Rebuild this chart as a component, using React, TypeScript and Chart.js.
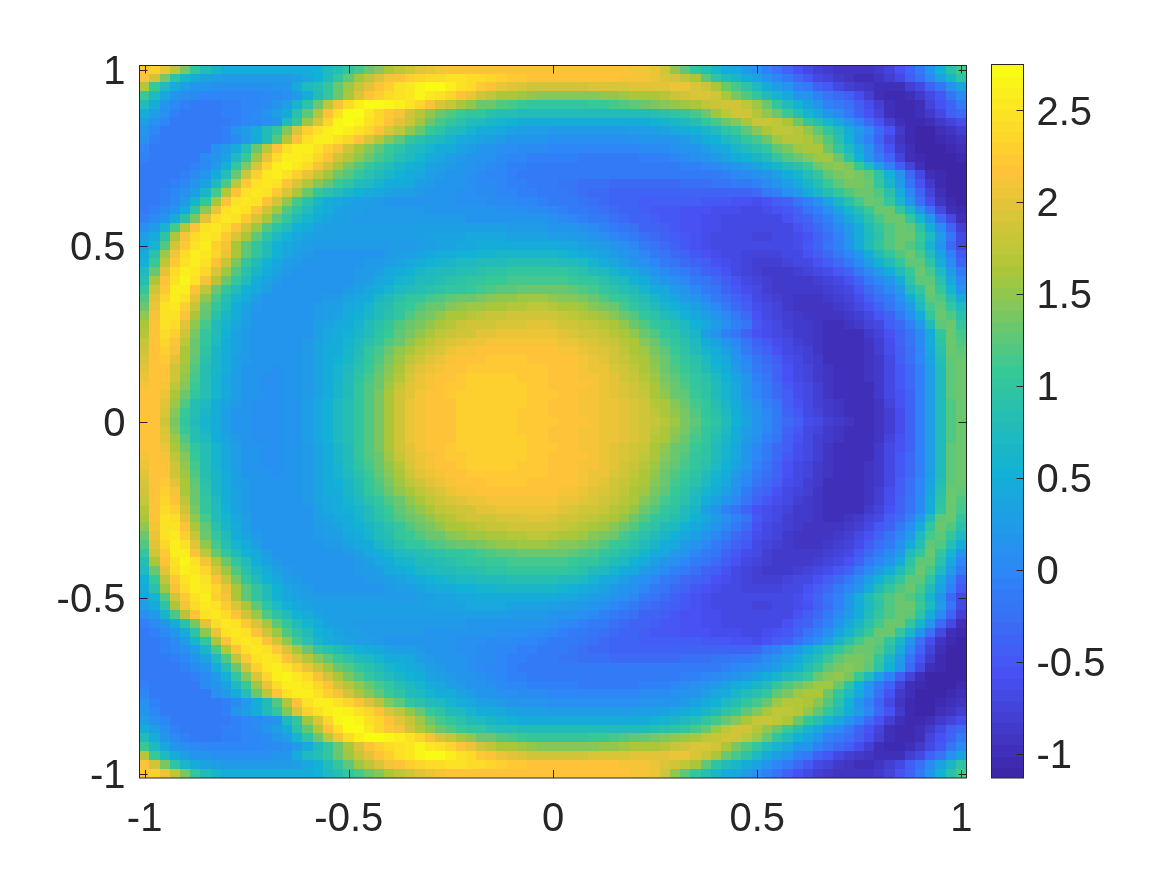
import React, { useEffect, useRef } from "react";
import { Chart, registerables } from "chart.js";

Chart.register(...registerables);

// Field values. Rows run from y = 1 down to y = 0; the lower half mirrors them.
const upperRows: number[][] = [
[2.15,2.3,2.05,1.75,1.4, 1.0,.75,.6,.5,.45, .45,.45,.45,.45,.45, .45,.5,.55,.7,.85, 1.0,1.15,1.3,1.45,1.6, 1.75,1.9,2.0,2.05,2.1, 2.15,2.2,2.2,2.2,2.2, 2.2,2.2,2.2,2.2,2.2, 2.2,2.2,2.2,2.2,2.2, 2.15,2.15,2.15,2.1,2.1, 2.05,1.85,1.5,1.25,1.05, .85,.65,.5,.4,.25, .1,-.05,-.2,-.35,-.55, -.7,-.8,-.85,-.9,-.9, -.9,-.9,-.85,-.75,-.55, -.35,-.1,.2,.55,.9, 1.15],
[2.15,1.85,1.4,.95,.65, .45,.35,.3,.25,.25, .25,.25,.25,.25,.25, .3,.4,.55,.8,1.0, 1.25,1.55,1.75,1.95,2.1, 2.2,2.3,2.38,2.4,2.42, 2.45,2.45,2.42,2.4,2.35, 2.3,2.25,2.25,2.2,2.2, 2.2,2.18,2.15,2.15,2.15, 2.15,2.15,2.1,2.1,2.1, 2.05,1.95,1.85,1.75,1.6, 1.25,.95,.8,.65,.5, .35,.15,0,-.15,-.3, -.5,-.65,-.75,-.85,-.9, -.95,-.95,-.9,-.8,-.65, -.45,-.25,.05,.35,.65, .95],
[1.7,1.1,.7,.5,.3, .2,.15,.1,.1,.1, .1,.1,.1,.15,.2, .45,.7,.85,1.05,1.3, 1.55,1.8,2.0,2.2,2.3, 2.45,2.55,2.65,2.7,2.7, 2.6,2.5,2.4,2.25,2.15, 2.05,2.0,1.95,1.9,1.9, 1.9,1.9,1.9,1.9,1.92, 1.95,1.95,1.95,1.98,2.0, 2.0,2.02,2.05,2.05,1.95, 1.8,1.6,1.35,1.15,.95, .7,.5,.3,.15,-.05, -.15,-.35,-.5,-.7,-.8, -.85,-.9,-.95,-1.0,-.95, -.8,-.65,-.4,-.2,.1, .35],
[1.1,.7,.4,.2,.1, .05,0,0,0,0, 0,0,.05,.05,.1, .25,.5,.8,1.05,1.35, 1.65,1.95,2.15,2.3,2.4, 2.5,2.55,2.65,2.55,2.45, 2.35,2.2,2.05,1.85,1.75, 1.65,1.6,1.55,1.5,1.45, 1.45,1.45,1.45,1.45,1.45, 1.5,1.5,1.55,1.6,1.65, 1.65,1.7,1.8,1.85,1.95, 1.95,1.85,1.65,1.4,1.2, 1.0,.8,.6,.4,.2, .15,-.05,-.2,-.3,-.45, -.6,-.8,-.95,-1.05,-1.05, -1.0,-.85,-.65,-.5,-.2, .05],
[.75,.45,.2,.05,-.05, -.1,-.1,-.1,-.05,-.05, 0,0,.05,.15,.3, .6,.95,1.35,1.75,2.1, 2.4,2.6,2.7,2.7,2.65, 2.6,2.5,2.35,2.1,1.95, 1.8,1.65,1.5,1.35,1.3, 1.2,1.15,1.1,1.05,1.05, 1.05,1.05,1.05,1.05,1.1, 1.1,1.15,1.2,1.25,1.3, 1.4,1.45,1.5,1.55,1.65, 1.75,1.8,1.85,1.85,1.75, 1.55,1.3,1.05,.8,.55, .35,.15,-.05,-.15,-.25, -.45,-.6,-.8,-.95,-1.05, -1.05,-.95,-.75,-.55,-.35, -.1],
[.5,.3,.1,-.05,-.1, -.1,-.1,-.1,-.05,-.05, 0,.05,.2,.3,.5, .9,1.25,1.7,2.15,2.5, 2.7,2.72,2.55,2.35,2.25, 2.1,1.9,1.7,1.5,1.35, 1.2,1.1,1.05,1.0,.9, .85,.82,.8,.78,.76, .75,.75,.75,.75,.75, .75,.75,.76,.78,.8, .85,.9,.95,1.0,1.15, 1.35,1.55,1.75,1.85,1.85, 1.7,1.5,1.3,1.1,.85, .6,.4,.2,.05,-.1, -.35,-.55,-.75,-.95,-1.05, -1.05,-.95,-.85,-.65,-.45, -.3],
[.3,.1,0,-.1,-.1, -.1,-.1,-.1,-.1,-.05, 0,.05,.1,.2,.7, 1.05,1.55,1.95,2.35,2.65, 2.7,2.65,2.5,2.35,2.2, 2.0,1.8,1.55,1.35,1.15, 1.0,.9,.8,.7,.65, .6,.55,.5,.5,.5, .45,.45,.45,.45,.45, .45,.45,.5,.5,.5, .55,.6,.65,.7,.85, 1.0,1.15,1.3,1.45,1.65, 1.8,1.8,1.75,1.6,1.35, 1.05,.85,.6,.4,.2, -.05,-.3,-.55,-.8,-1.0, -1.05,-1.05,-1.0,-.85,-.75, -.6],
[.2,0,-.1,-.1,-.1, -.1,-.1,-.1,-.05,.15, .3,.5,.75,1.05,1.45, 1.95,2.3,2.5,2.62,2.65, 2.6,2.5,2.35,2.15,1.95, 1.75,1.5,1.3,1.1,.95, .8,.7,.6,.5,.45, .4,.35,.3,.3,.3, .25,.25,.25,.25,.25, .25,.25,.25,.3,.3, .3,.35,.4,.45,.55, .65,.8,.95,1.1,1.25, 1.45,1.65,1.75,1.75,1.7, 1.5,1.25,1.0,.75,.5, .25,0,-.3,-.55,-.85, -1.05,-1.1,-1.1,-1.0,-.9, -.8],
[.1,-.05,-.1,-.15,-.15, -.15,-.15,-.1,-.05,.05, .25,.45,.75,1.2,1.7, 2.2,2.5,2.62,2.6,2.5, 2.35,2.15,1.95,1.7,1.45, 1.25,1.05,.9,.8,.7, .6,.5,.4,.35,.3, .25,.2,.15,.15,.15, .1,.1,.1,.1,.1, .1,.1,.1,.1,.15, .15,.2,.2,.25,.35, .45,.55,.7,.85,1.0, 1.15,1.35,1.55,1.7,1.7, 1.65,1.45,1.2,.9,.55, .2,-.05,-.35,-.65,-.9, -1.05,-1.1,-1.1,-1.05,-.95, -.9],
[0,-.1,-.15,-.15,-.15, -.15,-.1,.1,.25,.5, .85,1.3,1.75,2.2,2.45, 2.6,2.62,2.5,2.3,2.1, 1.85,1.65,1.45,1.25,1.1, .95,.8,.7,.6,.5, .45,.35,.3,.2,.15, .1,.1,.05,.05,.05, 0,0,0,0,0, 0,0,0,0,.05, .05,.05,.1,.15,.2, .3,.4,.5,.65,.75, .9,1.05,1.25,1.4,1.55, 1.6,1.6,1.35,1.0,.7, .4,.1,-.25,-.55,-.85, -1.0,-1.1,-1.1,-1.1,-1.05, -1.0],
[-.05,-.1,-.15,-.15,-.15, -.1,.05,.15,.35,.7, 1.1,1.55,2.05,2.4,2.6, 2.62,2.55,2.35,2.15,1.9, 1.7,1.5,1.3,1.15,1.0, .85,.7,.6,.5,.4, .3,.25,.2,.15,.1, .05,0,0,-.05,-.05, -.05,-.05,-.05,-.1,-.1, -.1,-.1,-.1,-.1,-.05, -.05,-.05,0,.05,.1, .15,.25,.35,.45,.55, .65,.8,1.0,1.2,1.35, 1.45,1.55,1.55,1.3,.95, .55,.2,-.1,-.4,-.75, -.95,-1.05,-1.1,-1.1,-1.1, -1.05],
[-.1,-.15,-.15,-.15,-.1, -.05,.05,.25,.55,1.0, 1.45,1.95,2.35,2.6,2.65, 2.55,2.4,2.1,1.85,1.6, 1.4,1.2,1.05,.9,.8, .65,.55,.45,.35,.3, .25,.2,.15,.1,.05, 0,-.05,-.05,-.1,-.1, -.1,-.15,-.15,-.15,-.15, -.15,-.15,-.15,-.15,-.15, -.15,-.1,-.1,-.05,-.05, 0,.05,.1,.2,.25, .35,.45,.6,.75,.9, 1.1,1.3,1.45,1.5,1.4, 1.1,.7,.3,-.05,-.45, -.75,-.95,-1.1,-1.1,-1.1, -1.1],
[-.1,-.15,-.15,-.1,-.05, .05,.2,.45,.85,1.3, 1.85,2.3,2.55,2.6,2.5, 2.3,2.05,1.8,1.55,1.35, 1.2,1.05,.9,.75,.65, .55,.45,.4,.3,.25, .2,.15,.1,.05,0, 0,-.05,-.1,-.1,-.1, -.1,-.1,-.15,-.15,-.15, -.15,-.15,-.15,-.15,-.15, -.15,-.15,-.15,-.1,-.1, -.1,-.1,-.05,0,.05, .1,.2,.3,.45,.6, .85,1.05,1.25,1.4,1.45, 1.4,1.25,.95,.55,.15, -.3,-.65,-.95,-1.05,-1.1, -1.1],
[-.1,-.1,-.1,-.05,0, .15,.35,.7,1.2,1.75, 2.25,2.5,2.55,2.45,2.2, 1.95,1.7,1.45,1.25,1.1, .95,.8,.7,.6,.5, .45,.4,.3,.25,.2, .15,.15,.1,.05,.05, 0,-.05,-.05,-.1,-.15, -.15,-.2,-.2,-.25,-.25, -.25,-.3,-.3,-.3,-.3, -.3,-.3,-.3,-.25,-.25, -.25,-.2,-.2,-.15,-.1, -.05,.05,.15,.3,.45, .65,.85,1.1,1.25,1.4, 1.4,1.3,1.05,.65,.25, -.2,-.55,-.85,-1.05,-1.1, -1.1],
[-.1,-.1,-.05,0,.1, .3,.65,1.15,1.7,2.2, 2.5,2.55,2.5,2.25,1.95, 1.6,1.3,1.05,.9,.75, .65,.55,.5,.4,.35, .3,.3,.25,.2,.2, .15,.1,.1,.05,.05, 0,0,-.05,-.05,-.1, -.15,-.15,-.2,-.25,-.3, -.3,-.35,-.35,-.35,-.35, -.35,-.35,-.35,-.4,-.4, -.4,-.4,-.4,-.35,-.35, -.3,-.15,-.05,.1,.25, .45,.65,.85,1.05,1.2, 1.35,1.35,1.2,.9,.45, 0,-.4,-.75,-1.0,-1.1, -1.1],
[-.1,-.1,-.05,.05,.25, .6,1.05,1.65,2.2,2.5, 2.55,2.45,2.2,1.85,1.5, 1.15,.9,.65,.5,.4, .35,.3,.3,.25,.2, .2,.2,.2,.2,.15, .15,.1,.1,.1,.05, .05,.05,0,0,-.05, -.1,-.1,-.15,-.2,-.25, -.3,-.35,-.4,-.4,-.45, -.45,-.45,-.45,-.45,-.45, -.5,-.5,-.5,-.55,-.55, -.6,-.55,-.45,-.35,-.2, -.05,.1,.35,.65,.9, 1.15,1.35,1.25,1.05,.65, .2,-.25,-.6,-.9,-1.05, -1.1],
[-.1,-.05,.05,.2,.5, .95,1.5,2.05,2.45,2.55, 2.45,2.2,1.9,1.55,1.2, .95,.75,.55,.45,.35, .3,.3,.25,.25,.25, .25,.25,.25,.2,.2, .2,.15,.15,.15,.15, .1,.1,.1,.05,.05, 0,-.05,-.1,-.15,-.2, -.25,-.3,-.35,-.4,-.45, -.5,-.5,-.5,-.55,-.55, -.55,-.6,-.6,-.6,-.65, -.65,-.6,-.55,-.5,-.35, -.2,-.05,.1,.35,.6, .85,1.1,1.3,1.3,1.05, .65,.2,-.25,-.65,-.95, -1.05],
[-.05,.05,.15,.45,.9, 1.4,2.0,2.4,2.55,2.5, 2.25,1.95,1.6,1.25,1.0, .8,.6,.45,.35,.3, .3,.25,.25,.25,.25, .25,.25,.25,.25,.25, .25,.25,.2,.2,.2, .2,.15,.15,.15,.15, .1,.05,0,-.05,-.1, -.15,-.25,-.3,-.35,-.4, -.45,-.5,-.5,-.55,-.55, -.6,-.6,-.65,-.65,-.7, -.7,-.7,-.65,-.55,-.45, -.35,-.2,-.05,.15,.4, .65,.9,1.15,1.3,1.3, 1.05,.6,.15,-.3,-.7, -1.0],
[.1,.25,.6,1.15,1.7, 2.2,2.5,2.55,2.4,2.2, 1.9,1.55,1.2,.95,.75, .55,.45,.35,.3,.3, .3,.3,.3,.3,.3, .3,.3,.3,.3,.3, .3,.3,.3,.3,.3, .3,.25,.25,.25,.25, .2,.2,.15,.1,.05, -.05,-.1,-.2,-.25,-.35, -.4,-.45,-.5,-.55,-.55, -.6,-.6,-.65,-.65,-.7, -.7,-.7,-.7,-.65,-.55, -.45,-.3,-.15,.05,.25, .5,.75,1.0,1.2,1.3, 1.25,.95,.5,.05,-.4, -.8],
[.3,.45,.95,1.65,2.1, 2.4,2.55,2.5,2.25,1.95, 1.6,1.25,.95,.7,.55, .4,.35,.3,.3,.3, .3,.3,.3,.3,.3, .3,.3,.3,.35,.35, .35,.35,.4,.4,.4, .4,.35,.35,.35,.35, .3,.3,.25,.25,.15, .1,0,-.05,-.15,-.25, -.3,-.4,-.45,-.5,-.55, -.6,-.65,-.65,-.7,-.7, -.75,-.75,-.7,-.65,-.6, -.55,-.4,-.25,-.05,.15, .45,.7,.95,1.2,1.3, 1.3,1.1,.7,.25,-.2, -.65],
[.35,.6,1.2,1.9,2.25, 2.45,2.6,2.3,2.1,1.65, 1.25,1.0,.75,.55,.4, .35,.3,.25,.25,.25, .25,.25,.25,.25,.25, .25,.25,.3,.3,.35, .35,.4,.4,.45,.45, .45,.5,.5,.5,.5, .45,.4,.4,.35,.3, .25,.15,.1,0,-.1, -.2,-.3,-.4,-.5,-.55, -.6,-.65,-.65,-.7,-.7, -.7,-.7,-.7,-.65,-.6, -.5,-.35,-.2,-.05,.15, .45,.75,1.0,1.2,1.3, 1.2,1.05,.6,.2,-.3, -.7],
[.45,.9,1.55,2.1,2.4, 2.6,2.55,2.35,2.05,1.65, 1.25,1.0,.75,.55,.4, .3,.25,.2,.2,.2, .2,.2,.2,.2,.25, .3,.3,.35,.4,.45, .5,.55,.55,.6,.6, .65,.65,.65,.65,.65, .65,.6,.55,.5,.4, .35,.25,.2,.1,0, -.1,-.2,-.3,-.4,-.5, -.55,-.6,-.65,-.7,-.75, -.75,-.75,-.75,-.7,-.65, -.55,-.45,-.3,-.15,0, .2,.5,.8,1.05,1.2, 1.3,1.15,.8,.35,-.05, -.5],
[.55,1.1,1.75,2.25,2.5, 2.6,2.5,2.2,1.8,1.4, 1.05,.8,.55,.4,.3, .25,.2,.2,.2,.2, .2,.2,.25,.25,.3, .35,.4,.45,.55,.6, .65,.7,.7,.75,.75, .8,.85,.85,.85,.85, .85,.8,.75,.7,.6, .5,.4,.3,.2,.1, 0,-.1,-.2,-.3,-.4, -.45,-.55,-.6,-.7,-.75, -.8,-.8,-.8,-.75,-.7, -.65,-.55,-.45,-.3,-.15, .05,.3,.55,.8,1.05, 1.25,1.25,.95,.45,.05, -.35],
[.7,1.35,2.0,2.4,2.6, 2.55,2.35,1.95,1.55,1.2, .9,.65,.45,.35,.25, .2,.2,.2,.2,.2, .2,.25,.25,.3,.4, .5,.55,.65,.7,.75, .8,.85,.85,.9,.95, .95,1.0,1.0,1.0,1.0, 1.0,1.0,.95,.9,.8, .7,.6,.5,.4,.25, .15,.05,-.05,-.15,-.25, -.35,-.45,-.55,-.65,-.75, -.8,-.85,-.85,-.85,-.8, -.75,-.7,-.6,-.5,-.35, -.15,.05,.25,.5,.8, 1.1,1.3,1.15,.7,.25, -.15],
[.85,1.65,2.15,2.5,2.65, 2.5,2.1,1.7,1.3,1.0, .75,.5,.35,.25,.2, .15,.15,.2,.2,.2, .2,.25,.3,.4,.5, .6,.65,.75,.8,.85, .9,.95,1.0,1.05,1.1, 1.1,1.15,1.15,1.15,1.15, 1.15,1.15,1.1,1.05,1.0, .9,.8,.7,.55,.45, .3,.2,.1,0,-.1, -.2,-.3,-.45,-.55,-.65, -.75,-.8,-.85,-.85,-.85, -.85,-.8,-.75,-.7,-.55, -.35,-.15,0,.2,.5, .95,1.25,1.25,.9,.4, 0],
[1.0,1.9,2.25,2.6,2.6, 2.2,1.75,1.35,1.0,.75, .55,.4,.3,.2,.15, .15,.15,.2,.2,.2, .25,.3,.4,.5,.6, .7,.75,.85,.9,.95, 1.0,1.05,1.1,1.15,1.2, 1.25,1.25,1.3,1.3,1.3, 1.3,1.3,1.25,1.2,1.15, 1.05,.95,.85,.75,.6, .5,.4,.25,.15,0, -.1,-.2,-.35,-.5,-.6, -.7,-.8,-.85,-.85,-.85, -.85,-.85,-.8,-.75,-.7, -.5,-.3,-.15,.05,.25, .75,1.05,1.3,1.05,.6, .2],
[1.2,2.0,2.35,2.6,2.45, 2.0,1.5,1.15,.85,.6, .45,.3,.2,.15,.15, .15,.2,.2,.25,.25, .35,.4,.5,.65,.75, .9,1.0,1.05,1.15,1.2, 1.25,1.3,1.35,1.4,1.45, 1.5,1.5,1.55,1.55,1.55, 1.5,1.45,1.45,1.4,1.3, 1.2,1.1,1.0,.9,.75, .65,.5,.4,.25,.15, 0,-.1,-.25,-.4,-.5, -.65,-.75,-.8,-.85,-.9, -.9,-.9,-.85,-.8,-.75, -.6,-.45,-.25,-.1,.1, .45,.85,1.25,1.2,.85, .45],
[1.35,2.05,2.45,2.55,2.3, 1.8,1.35,1.0,.75,.5, .35,.25,.2,.15,.15, .15,.2,.25,.3,.3, .4,.45,.6,.75,.85, 1.0,1.1,1.2,1.3,1.35, 1.45,1.5,1.55,1.55,1.6, 1.65,1.7,1.7,1.75,1.75, 1.7,1.65,1.6,1.55,1.45, 1.4,1.3,1.15,1.05,.9, .8,.65,.55,.4,.3, .15,0,-.15,-.3,-.45, -.6,-.7,-.75,-.85,-.9, -.9,-.9,-.9,-.85,-.8, -.7,-.55,-.4,-.2,0, .25,.7,1.15,1.25,1.05, .7],
[1.5,2.1,2.5,2.5,2.15, 1.65,1.25,.9,.65,.45, .3,.2,.15,.15,.15, .15,.2,.25,.3,.35, .45,.55,.65,.8,.9, 1.05,1.2,1.3,1.4,1.5, 1.6,1.65,1.7,1.75,1.8, 1.8,1.85,1.85,1.85,1.85, 1.85,1.8,1.75,1.7,1.6, 1.55,1.45,1.35,1.2,1.05, .95,.8,.7,.55,.4, .3,.15,0,-.15,-.3, -.55,-.65,-.75,-.8,-.85, -.9,-.9,-.9,-.9,-.85, -.8,-.65,-.5,-.35,-.15, .1,.5,1.0,1.3,1.2, .9],
[1.6,2.15,2.45,2.4,2.0, 1.5,1.15,.8,.6,.4, .3,.2,.15,.15,.15, .15,.2,.3,.35,.4, .5,.6,.75,.9,1.05, 1.2,1.3,1.4,1.5,1.65, 1.7,1.8,1.85,1.9,1.9, 1.95,1.95,1.95,2.0,2.0, 1.95,1.9,1.85,1.8,1.75, 1.7,1.6,1.5,1.35,1.2, 1.05,.95,.85,.7,.55, .4,.25,.1,-.05,-.2, -.5,-.6,-.7,-.8,-.85, -.85,-.9,-.95,-.95,-.9, -.85,-.75,-.65,-.45,-.3, -.05,.25,.75,1.25,1.3, 1.05],
[1.7,2.15,2.4,2.3,1.85, 1.4,1.05,.75,.55,.35, .25,.2,.15,.15,.15, .2,.2,.3,.4,.45, .55,.65,.8,.95,1.1, 1.25,1.4,1.5,1.6,1.75, 1.8,1.85,1.9,2.0,2.0, 2.05,2.05,2.05,2.05,2.05, 2.05,2.0,1.95,1.9,1.85, 1.8,1.7,1.6,1.5,1.35, 1.2,1.05,.95,.8,.65, .3,.15,-.05,-.2,-.35, -.55,-.6,-.7,-.75,-.85, -.85,-.9,-.95,-.95,-.95, -.95,-.85,-.75,-.55,-.4, -.2,.05,.5,1.0,1.3, 1.15],
[1.8,2.2,2.35,2.2,1.75, 1.35,1.0,.7,.5,.35, .25,.2,.15,.15,.15, .2,.25,.35,.4,.5, .6,.7,.9,1.05,1.2, 1.35,1.5,1.65,1.75,1.85, 1.95,2.0,2.05,2.05,2.1, 2.1,2.1,2.1,2.1,2.1, 2.1,2.05,2.05,2.0,1.95, 1.9,1.8,1.7,1.6,1.45, 1.3,1.15,1.0,.9,.7, .5,.35,.2,0,-.2, -.4,-.5,-.6,-.7,-.8, -.85,-.9,-.95,-.95,-1.0, -.95,-.9,-.8,-.6,-.4, -.2,.05,.45,.95,1.3, 1.2],
[1.9,2.2,2.3,2.1,1.65, 1.3,.95,.65,.5,.35, .25,.2,.15,.15,.15, .2,.25,.35,.45,.5, .65,.8,1.0,1.15,1.3, 1.5,1.65,1.75,1.9,1.95, 2.05,2.1,2.1,2.15,2.15, 2.2,2.2,2.2,2.15,2.15, 2.15,2.1,2.1,2.05,2.0, 1.95,1.85,1.75,1.65,1.55, 1.4,1.25,1.1,.95,.8, .6,.45,.3,.1,-.1, -.3,-.4,-.55,-.65,-.75, -.8,-.9,-.95,-.95,-1.0, -1.0,-.9,-.8,-.6,-.45, -.25,0,.4,.9,1.3, 1.25],
[1.95,2.2,2.25,2.0,1.6, 1.25,.9,.65,.45,.3, .25,.15,.15,.15,.15, .2,.25,.35,.45,.55, .65,.85,1.05,1.2,1.4, 1.55,1.75,1.9,2.0,2.05, 2.1,2.15,2.2,2.2,2.25, 2.25,2.25,2.25,2.2,2.2, 2.2,2.15,2.15,2.1,2.05, 2.0,1.9,1.8,1.7,1.6, 1.45,1.3,1.15,1.05,.9, .7,.55,.4,.2,0, -.2,-.3,-.45,-.6,-.7, -.8,-.85,-.95,-.95,-1.0, -1.0,-.9,-.85,-.65,-.45, -.25,0,.35,.85,1.25, 1.3],
[2.0,2.2,2.2,1.9,1.55, 1.2,.85,.65,.45,.3, .2,.15,.15,.1,.15, .2,.25,.35,.45,.6, .7,.9,1.1,1.25,1.45, 1.65,1.85,2.0,2.05,2.1, 2.15,2.2,2.25,2.25,2.25, 2.25,2.25,2.25,2.25,2.25, 2.2,2.2,2.15,2.1,2.05, 2.05,1.95,1.85,1.75,1.65, 1.5,1.35,1.2,1.1,.95, .8,.6,.45,.25,.05, -.1,-.25,-.4,-.55,-.7, -.75,-.85,-.9,-.95,-1.0, -1.0,-.9,-.85,-.65,-.5, -.3,-.05,.3,.8,1.25, 1.3],
[2.05,2.2,2.15,1.85,1.5, 1.15,.85,.6,.4,.3, .2,.15,.1,.1,.15, .2,.25,.35,.5,.6, .75,.95,1.15,1.3,1.5, 1.7,1.95,2.05,2.1,2.15, 2.2,2.25,2.3,2.3,2.3, 2.3,2.3,2.25,2.25,2.25, 2.2,2.2,2.15,2.1,2.1, 2.05,2.0,1.9,1.8,1.7, 1.55,1.4,1.25,1.15,1.05, .9,.7,.55,.35,.15, -.05,-.2,-.35,-.55,-.65, -.75,-.85,-.9,-.95,-1.0, -1.0,-.9,-.85,-.65,-.5, -.3,-.05,.3,.8,1.25, 1.35],
[2.1,2.2,2.1,1.75,1.45, 1.1,.85,.6,.4,.3, .2,.15,.1,.1,.15, .2,.25,.35,.5,.65, .8,1.0,1.2,1.35,1.55, 1.8,2.0,2.05,2.1,2.2, 2.25,2.25,2.3,2.3,2.3, 2.3,2.3,2.3,2.25,2.25, 2.2,2.2,2.15,2.15,2.1, 2.05,2.0,1.95,1.85,1.75, 1.6,1.45,1.3,1.2,1.05, .95,.75,.6,.4,.2, 0,-.15,-.3,-.5,-.6, -.7,-.8,-.9,-.95,-1.0, -1.0,-.95,-.85,-.7,-.5, -.3,-.05,.3,.8,1.25, 1.35],
[2.15,2.2,2.05,1.65,1.35, 1.05,.85,.6,.4,.3, .2,.15,.1,.1,.15, .2,.25,.35,.5,.65, .8,1.0,1.2,1.4,1.6, 1.85,2.0,2.1,2.15,2.2, 2.25,2.3,2.3,2.3,2.3, 2.3,2.3,2.3,2.25,2.25, 2.25,2.2,2.15,2.1,2.1, 2.05,2.0,1.95,1.9,1.8, 1.65,1.5,1.35,1.25,1.1, .95,.8,.6,.4,.2, 0,-.15,-.3,-.45,-.6, -.7,-.8,-.9,-.95,-1.0, -1.0,-.95,-.85,-.7,-.55, -.35,-.05,.3,.8,1.25, 1.35],
[2.15,2.2,2.0,1.55,1.2, .85,.7,.5,.35,.25, .2,.1,.1,.1,.15, .2,.3,.4,.55,.7, .85,1.0,1.2,1.4,1.65, 1.9,2.05,2.1,2.15,2.2, 2.2,2.3,2.3,2.3,2.3, 2.3,2.3,2.3,2.25,2.25, 2.2,2.2,2.15,2.1,2.1, 2.05,2.05,2.0,1.95,1.85, 1.7,1.6,1.45,1.3,1.15, 1.0,.85,.65,.45,.25, .1,-.05,-.2,-.45,-.55, -.7,-.8,-.85,-.9,-.95, -1.0,-.95,-.9,-.75,-.55, -.35,-.05,.3,.75,1.2, 1.35],
[2.2,2.15,1.95,1.45,1.1, .85,.65,.45,.3,.2, .15,.1,.1,.1,.15, .2,.3,.4,.55,.7, .85,1.0,1.2,1.4,1.65, 1.9,2.05,2.1,2.15,2.2, 2.2,2.3,2.3,2.3,2.3, 2.3,2.3,2.25,2.25,2.25, 2.2,2.2,2.15,2.1,2.1, 2.05,2.05,2.0,1.95,1.85, 1.75,1.65,1.5,1.4,1.2, 1.05,.9,.7,.5,.3, .15,0,-.15,-.4,-.5, -.65,-.75,-.85,-.9,-.95, -.95,-.95,-.9,-.8,-.6, -.35,-.05,.3,.75,1.2, 1.35],
];
const middleRow: number[] = [2.2,2.15,1.9,1.4,1.05, .8,.6,.45,.3,.2, .15,.1,.1,.1,.15, .2,.3,.4,.55,.7, .85,1.0,1.2,1.4,1.65, 1.9,2.05,2.1,2.15,2.2, 2.2,2.3,2.3,2.3,2.3, 2.3,2.3,2.25,2.25,2.25, 2.25,2.2,2.15,2.15,2.1, 2.05,2.05,2.0,1.95,1.9, 1.8,1.7,1.55,1.4,1.25, 1.1,.95,.75,.55,.35, .2,.05,-.1,-.3,-.45, -.6,-.7,-.8,-.85,-.9, -.95,-.95,-.9,-.8,-.6, -.35,-.05,.3,.75,1.2, 1.35];

const gridRows: number[][] = [...upperRows, middleRow, ...[...upperRows].reverse()];
const axisTicks = [-1, -0.5, 0, 0.5, 1];
const colorbarTicks = [-1, -0.5, 0, 0.5, 1, 1.5, 2, 2.5];
const colorMin = -1.13;
const colorMax = 2.75;
const axisLimit = 1.0125;
const textColor = "#262626";
const fontFamily = "'Liberation Sans', Arial, sans-serif";

const parulaStops = [
  [0.2422, 0.1504, 0.6603], [0.281, 0.3228, 0.9578], [0.1786, 0.5289, 0.9682], [0.0689, 0.6948, 0.8394],
  [0.2161, 0.7843, 0.5923], [0.672, 0.7793, 0.2227], [0.997, 0.7659, 0.2199], [0.9769, 0.9839, 0.0805],
];

function parula(v: number): string {
  const t = Math.min(1, Math.max(0, (v - colorMin) / (colorMax - colorMin)));
  const level = Math.min(63, Math.floor(t * 64)) / 63;
  const p = level * (parulaStops.length - 1);
  const k = Math.min(parulaStops.length - 2, Math.floor(p));
  const f = p - k;
  const c = parulaStops[k].map((a, n) => Math.round(255 * (a + (parulaStops[k + 1][n] - a) * f)));
  return `rgb(${c[0]},${c[1]},${c[2]})`;
}

const sprites = new Map<string, HTMLCanvasElement>();
function sprite(v: number, w: number, h: number): HTMLCanvasElement {
  const color = parula(v);
  const key = `${color}|${w}|${h}`;
  let c = sprites.get(key);
  if (!c) {
    c = document.createElement("canvas");
    c.width = w;
    c.height = h;
    const g = c.getContext("2d")!;
    g.fillStyle = color;
    g.fillRect(0, 0, w, h);
    sprites.set(key, c);
  }
  return c;
}

const framePlugin = (sides: { x: boolean; left: boolean; right: boolean }, len: number) => ({
  id: "frame",
  afterDraw(chart: any) {
    const { ctx, chartArea: a, scales } = chart;
    ctx.save();
    ctx.strokeStyle = textColor;
    ctx.lineWidth = 1;
    const line = (x0: number, y0: number, x1: number, y1: number) => {
      ctx.beginPath();
      ctx.moveTo(x0, y0);
      ctx.lineTo(x1, y1);
      ctx.stroke();
    };
    if (sides.x) {
      for (const t of scales.x.ticks) {
        const px = Math.round(scales.x.getPixelForValue(t.value)) + 0.5;
        line(px, a.bottom, px, a.bottom - len);
        line(px, a.top, px, a.top + len);
      }
    }
    for (const t of scales.y.ticks) {
      const py = Math.round(scales.y.getPixelForValue(t.value)) + 0.5;
      if (sides.left) line(a.left, py, a.left + len, py);
      if (sides.right) line(a.right, py, a.right - len, py);
    }
    ctx.strokeRect(a.left, a.top, a.right - a.left, a.bottom - a.top);
    ctx.restore();
  },
});

const tickFont = { family: fontFamily, size: 40 };
const fixedTicks = (values: number[]) => (scale: any) => {
  scale.ticks = values.map((value) => ({ value }));
};

export default function App() {
  const mainRef = useRef<HTMLCanvasElement>(null);
  const barRef = useRef<HTMLCanvasElement>(null);

  useEffect(() => {
    const cells: { x: number; y: number; v: number }[] = [];
    gridRows.forEach((row, j) => {
      row.forEach((v, i) => cells.push({ x: -1 + i / 40, y: 1 - j / 40, v }));
    });
    const main = new Chart(mainRef.current!, {
      type: "scatter",
      data: {
        datasets: [{
          data: cells as any,
          pointRadius: 1,
          pointHoverRadius: 1,
          pointStyle: ((c: any) => sprite(c.raw ? c.raw.v : 0, 11, 10)) as any,
        }],
      },
      options: {
        animation: false,
        responsive: false,
        events: [],
        layout: { padding: { top: 65.5, right: 200.5, bottom: 0, left: 0 } },
        plugins: { legend: { display: false }, tooltip: { enabled: false } },
        scales: {
          x: {
            type: "linear", min: -axisLimit, max: axisLimit,
            afterBuildTicks: fixedTicks(axisTicks),
            afterFit: (s: any) => { s.height = 97; },
            grid: { display: false, drawTicks: false },
            border: { display: false },
            ticks: { font: tickFont, color: textColor, padding: 18, autoSkip: false, maxRotation: 0, callback: (v: any) => String(v) },
          },
          y: {
            type: "linear", min: -axisLimit, max: axisLimit,
            afterBuildTicks: fixedTicks(axisTicks),
            afterFit: (s: any) => { s.width = 139.5; },
            grid: { display: false, drawTicks: false },
            border: { display: false },
            ticks: { font: tickFont, color: textColor, padding: 14, labelOffset: 3, autoSkip: false, maxRotation: 0, callback: (v: any) => String(v) },
          },
        },
      },
      plugins: [framePlugin({ x: true, left: true, right: true }, 8)],
    } as any);

    const barCells: { x: number; y: number; v: number }[] = [];
    for (let k = 0; k < 64; k++) {
      const v = colorMin + ((k + 0.5) / 64) * (colorMax - colorMin);
      barCells.push({ x: 0.5, y: v, v });
    }
    const bar = new Chart(barRef.current!, {
      type: "scatter",
      data: {
        datasets: [{
          data: barCells as any,
          pointRadius: 1,
          pointHoverRadius: 1,
          pointStyle: ((c: any) => sprite(c.raw ? c.raw.v : 0, 33, 13)) as any,
        }],
      },
      options: {
        animation: false,
        responsive: false,
        events: [],
        layout: { padding: { top: 64.5, right: 0, bottom: 97, left: 31.5 } },
        plugins: { legend: { display: false }, tooltip: { enabled: false } },
        scales: {
          x: { type: "linear", min: 0, max: 1, display: false },
          y: {
            type: "linear", position: "right", min: colorMin, max: colorMax,
            afterBuildTicks: fixedTicks(colorbarTicks),
            afterFit: (s: any) => { s.width = 143.5; },
            grid: { display: false, drawTicks: false },
            border: { display: false },
            ticks: { font: tickFont, color: textColor, padding: 13, labelOffset: 3, autoSkip: false, maxRotation: 0, callback: (v: any) => String(v) },
          },
        },
      },
      plugins: [framePlugin({ x: false, left: false, right: true }, 7)],
    } as any);

    return () => {
      main.destroy();
      bar.destroy();
    };
  }, []);

  return (
    <div style={{ position: "absolute", left: 0, top: 0, width: 1167, height: 875, background: "#fff" }}>
      <canvas ref={mainRef} width={1167} height={875} style={{ position: "absolute", left: 0, top: 0 }} />
      <canvas ref={barRef} width={207} height={875} style={{ position: "absolute", left: 960, top: 0 }} />
    </div>
  );
}
